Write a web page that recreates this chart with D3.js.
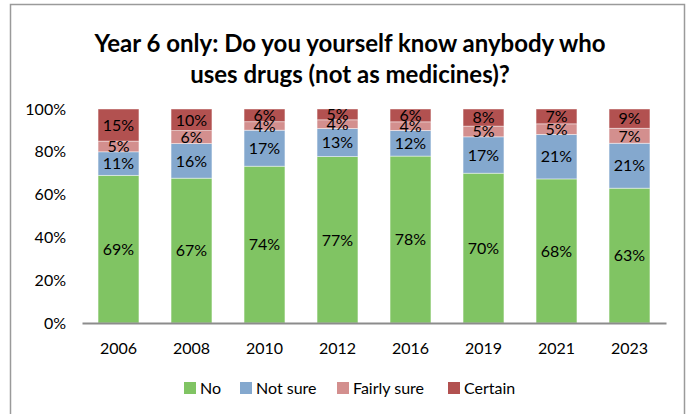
<!DOCTYPE html>
<html>
<head>
<meta charset="utf-8">
<script src="https://cdn.jsdelivr.net/npm/d3@7"></script>
<style>
  html, body { margin: 0; padding: 0; background: #fff; }
  svg { display: block; font-family: Lato, "Open Sans", sans-serif; }
</style>
</head>
<body>
<svg id="chart" width="691" height="414"></svg>
<script>
const years = ["2006", "2008", "2010", "2012", "2016", "2019", "2021", "2023"];
const seriesNames = ["No", "Not sure", "Fairly sure", "Certain"];
const noValues = [69, 67, 74, 77, 78, 70, 68, 63];
const notSureValues = [11, 16, 17, 13, 12, 17, 21, 21];
const fairlySureValues = [5, 6, 4, 4, 4, 5, 5, 7];
const certainValues = [15, 10, 6, 5, 6, 8, 7, 9];
const yTicks = [0, 0.2, 0.4, 0.6, 0.8, 1];
const colors = ["#80C463", "#84A8CE", "#D38F8E", "#B25150"];
const titleLines = ["Year 6 only: Do you yourself know anybody who", "uses drugs (not as medicines)?"];

const seriesValues = [noValues, notSureValues, fairlySureValues, certainValues];
const rows = years.map((y, i) => {
  const r = { year: y };
  seriesNames.forEach((s, j) => r[s] = seriesValues[j][i]);
  return r;
});

const svg = d3.select("#chart");

// outer border
svg.append("rect").attr("x", 10.5).attr("y", 4.5).attr("width", 674).attr("height", 420)
  .attr("fill", "none").attr("stroke", "#9a9a9a").attr("stroke-width", 1.5);

// title
const title = svg.append("text").attr("text-anchor", "middle").attr("font-weight", "bold")
  .attr("font-size", 24).attr("fill", "#000");
titleLines.forEach((t, i) => {
  title.append("tspan").attr("x", 350).attr("y", 52 + i * 31).text(t);
});

const x = d3.scaleBand().domain(years).range([82, 666]).paddingInner(0.44).paddingOuter(0.22);
const y = d3.scaleLinear().domain([0, 1]).range([323, 109]);

const stack = d3.stack().keys(seriesNames).offset(d3.stackOffsetExpand);
const stacked = stack(rows);

const g = svg.append("g");
const layers = g.selectAll("g.layer").data(stacked).join("g").attr("class", "layer")
  .attr("fill", (d, i) => colors[i]);
layers.selectAll("rect").data(d => d).join("rect")
  .attr("x", d => x(d.data.year))
  .attr("width", x.bandwidth())
  .attr("y", d => y(d[1]))
  .attr("height", d => y(d[0]) - y(d[1]))
  .attr("stroke", "#ffffff").attr("stroke-opacity", 0.55).attr("stroke-width", 0.8);

// data labels
stacked.forEach((layer, li) => {
  g.selectAll(null).data(layer).join("text")
    .attr("x", d => x(d.data.year) + x.bandwidth() / 2)
    .attr("y", d => (y(d[0]) + y(d[1])) / 2)
    .attr("dy", "0.36em")
    .attr("text-anchor", "middle")
    .attr("font-size", 16)
    .attr("fill", "#000")
    .text(d => d.data[layer.key] + "%");
});

// y axis labels
const yAxis = d3.axisLeft(y).tickValues(yTicks).tickFormat(d3.format(".0%")).tickSize(0).tickPadding(0);
const ya = svg.append("g").attr("transform", "translate(66,0)").call(yAxis);
ya.select(".domain").remove();
ya.selectAll("text").attr("font-size", 16).attr("fill", "#000").attr("font-family", "Lato, 'Open Sans', sans-serif");

// x axis
const xAxis = d3.axisBottom(x).tickSize(0).tickPadding(20);
const xa = svg.append("g").attr("transform", "translate(0,323)").call(xAxis);
xa.select(".domain").attr("stroke", "#8c8c8c").attr("stroke-width", 2.2);
xa.selectAll("text").attr("font-size", 16).attr("fill", "#000").attr("font-family", "Lato, 'Open Sans', sans-serif");

// legend
const legendX = [184, 240, 337, 448];
const leg = svg.append("g");
seriesNames.forEach((s, i) => {
  const lg = leg.append("g").attr("transform", `translate(${legendX[i]},382)`);
  lg.append("rect").attr("width", 12).attr("height", 12).attr("fill", colors[i]);
  lg.append("text").attr("x", 16).attr("y", 6).attr("dy", "0.36em")
    .attr("font-size", 16).attr("fill", "#000").text(s);
});
</script>
</body>
</html>
